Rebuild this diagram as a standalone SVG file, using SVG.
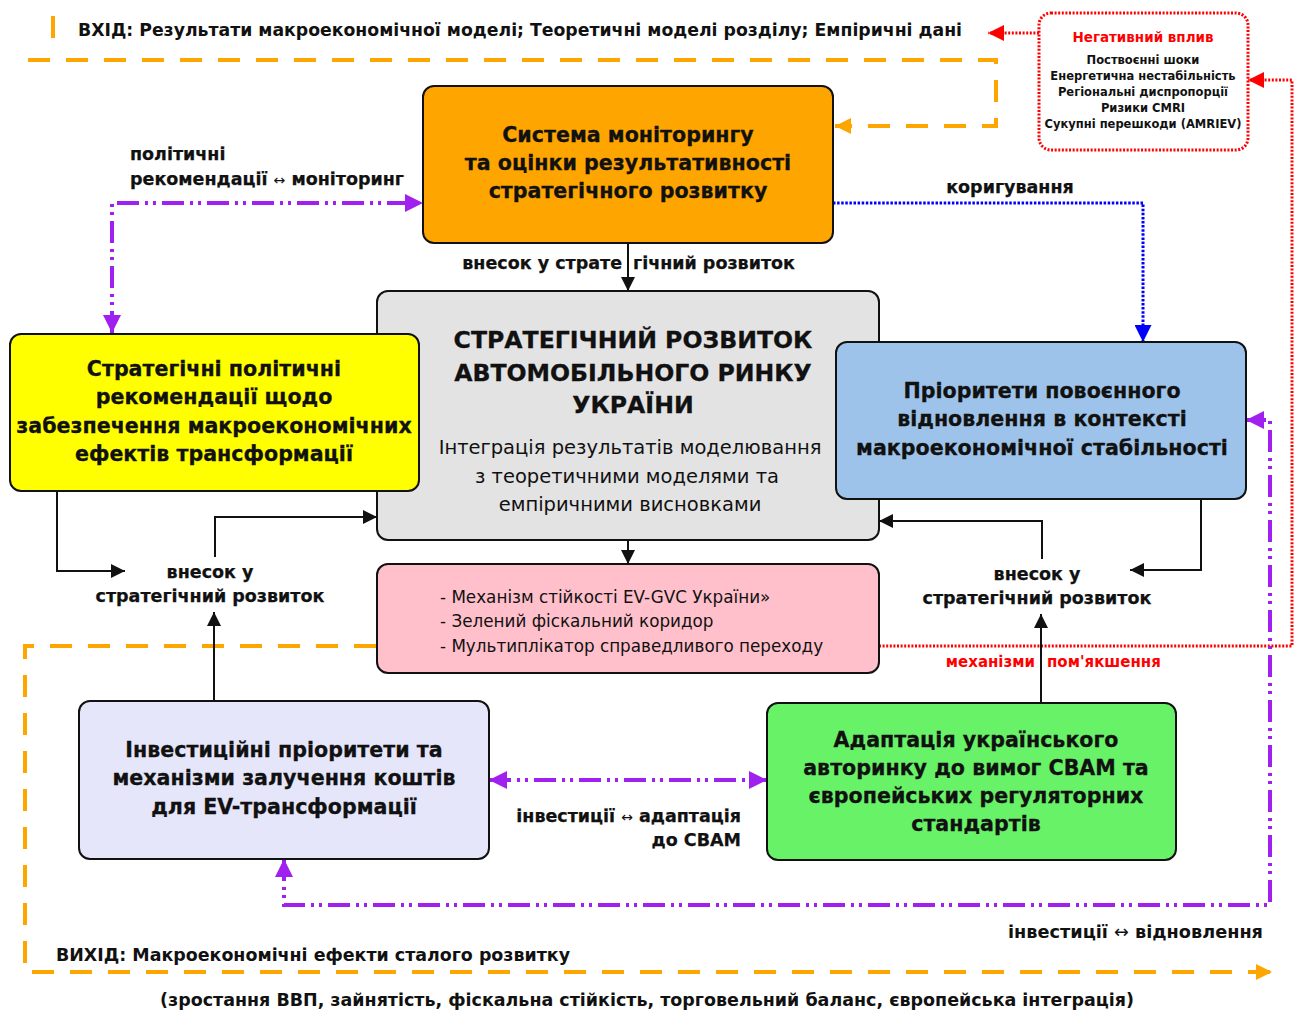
<svg xmlns="http://www.w3.org/2000/svg" width="1300" height="1011" viewBox="0 0 1300 1011">
  <defs>
    <style>
      text { font-family: "DejaVu Sans", Verdana, sans-serif; fill: #111; }
      .b { font-weight: bold; }
      .box { stroke: #111; stroke-width: 2; }
      .hd { font-size: 20.6px; font-weight: bold; text-anchor: middle; stroke: #111; stroke-width: 0.3; }
      .lbl { font-size: 17.5px; font-weight: bold; stroke: #111; stroke-width: 0.25; }
      .blk { fill: none; stroke: #111; stroke-width: 2; }
      .pur { fill: none; stroke: #A020F0; stroke-width: 4; stroke-dasharray: 22 6 3 5 3 6; }
      .org { fill: none; stroke: #FFA500; stroke-width: 4; stroke-dasharray: 22 16; }
      .red { fill: none; stroke: #FF0000; stroke-width: 3; stroke-dasharray: 2 1.6; }
      .blu { fill: none; stroke: #0000FF; stroke-width: 3; stroke-dasharray: 2.5 1.6; }
    </style>
    <marker id="aBlk" markerUnits="userSpaceOnUse" viewBox="0 0 12 12" refX="12" refY="6" markerWidth="14" markerHeight="14" orient="auto-start-reverse">
      <path d="M0,0 L12,6 L0,12 z" fill="#111"/>
    </marker>
    <marker id="aPur" markerUnits="userSpaceOnUse" viewBox="0 0 16 16" refX="16" refY="8" markerWidth="18" markerHeight="18" orient="auto-start-reverse">
      <path d="M0,0 L16,8 L0,16 z" fill="#A020F0"/>
    </marker>
    <marker id="aRed" markerUnits="userSpaceOnUse" viewBox="0 0 16 16" refX="16" refY="8" markerWidth="18" markerHeight="16" orient="auto-start-reverse">
      <path d="M0,0 L16,8 L0,16 z" fill="#FF0000"/>
    </marker>
    <marker id="aBlu" markerUnits="userSpaceOnUse" viewBox="0 0 16 16" refX="16" refY="8" markerWidth="17" markerHeight="17" orient="auto-start-reverse">
      <path d="M0,0 L16,8 L0,16 z" fill="#0000FF"/>
    </marker>
    <marker id="aOrg" markerUnits="userSpaceOnUse" viewBox="0 0 16 16" refX="16" refY="8" markerWidth="16" markerHeight="16" orient="auto-start-reverse">
      <path d="M0,0 L16,8 L0,16 z" fill="#FFA500"/>
    </marker>
  </defs>

  <rect width="1300" height="1011" fill="#FFFFFF"/>

  <!-- input / output frames and labels -->
  <g id="io">
    <line x1="53" y1="16" x2="53" y2="38" stroke="#FFA500" stroke-width="4"/>
    <text class="b" x="78" y="36" font-size="18" textLength="884" lengthAdjust="spacingAndGlyphs">ВХІД: Результати макроекономічної моделі; Теоретичні моделі розділу; Емпіричні дані</text>
    <text class="b" x="56" y="961" font-size="18" textLength="514" lengthAdjust="spacingAndGlyphs">ВИХІД: Макроекономічні ефекти сталого розвитку</text>
    <text class="b" x="160" y="1006" font-size="18" textLength="974" lengthAdjust="spacingAndGlyphs">(зростання ВВП, зайнятість, фіскальна стійкість, торговельний баланс, європейська інтеграція)</text>
  </g>

  <!-- connectors -->
  <g id="connectors">
    <!-- input flow into the monitoring system -->
    <path class="org" d="M28,60 H996 V126 H835" marker-end="url(#aOrg)"/>
    <!-- output flow -->
    <path class="org" d="M376,646 H25 V972 H1272" marker-end="url(#aOrg)"/>

    <!-- negative influence -->
    <path class="red" d="M1039,33 H988" marker-end="url(#aRed)"/>
    <path class="red" d="M879,646 H1292 V80 H1248" marker-end="url(#aRed)"/>

    <!-- correction -->
    <path class="blu" d="M833,203 H1143 V342" marker-end="url(#aBlu)"/>

    <!-- contributions -->
    <path class="blk" d="M628,243 V291" marker-end="url(#aBlk)"/>
    <path class="blk" d="M628,540 V564" marker-end="url(#aBlk)"/>
    <path class="blk" d="M57,491 V571 H125" marker-end="url(#aBlk)"/>
    <path class="blk" d="M215,557 V517 H377" marker-end="url(#aBlk)"/>
    <path class="blk" d="M214,701 V612" marker-end="url(#aBlk)"/>
    <path class="blk" d="M1201,499 V570 H1130" marker-end="url(#aBlk)"/>
    <path class="blk" d="M1042,559 V521 H879" marker-end="url(#aBlk)"/>
    <path class="blk" d="M1041,703 V614" marker-end="url(#aBlk)"/>

    <!-- two-way links -->
    <path class="pur" d="M112,333 V203 H423" marker-start="url(#aPur)" marker-end="url(#aPur)"/>
    <path class="pur" d="M489,780 H767" marker-start="url(#aPur)" marker-end="url(#aPur)"/>
    <path class="pur" d="M284,859 V905 H1270 V420 H1246" marker-start="url(#aPur)" marker-end="url(#aPur)"/>

    <!-- connector labels -->
    <text class="lbl" x="130" y="160">політичні</text>
    <text class="lbl" x="130" y="185">рекомендації <tspan font-weight="normal" font-size="14" stroke-width="0">↔</tspan> моніторинг</text>
    <text class="lbl" x="1010" y="193" text-anchor="middle">коригування</text>
    <text class="lbl" x="622" y="269" text-anchor="end">внесок у страте</text>
    <text class="lbl" x="633" y="269">гічний розвиток</text>
    <text class="lbl" x="210" y="578" text-anchor="middle">внесок у</text>
    <text class="lbl" x="210" y="602" text-anchor="middle">стратегічний розвиток</text>
    <text class="lbl" x="1037" y="580" text-anchor="middle">внесок у</text>
    <text class="lbl" x="1037" y="604" text-anchor="middle">стратегічний розвиток</text>
    <text class="b" x="1035" y="667" text-anchor="end" font-size="15" style="fill:#FF0000">механізми</text>
    <text class="b" x="1047" y="667" font-size="15" style="fill:#FF0000">пом'якшення</text>
    <text class="lbl" x="741" y="822" text-anchor="end">інвестиції <tspan font-weight="normal" font-size="14" stroke-width="0">↔</tspan> адаптація</text>
    <text class="lbl" x="741" y="846" text-anchor="end">до CBAM</text>
    <text class="b" x="1008" y="938" font-size="18" textLength="255" lengthAdjust="spacingAndGlyphs">інвестиції <tspan font-weight="normal">↔</tspan> відновлення</text>
  </g>

  <!-- negative influence box -->
  <g id="negative">
    <rect x="1039" y="13" width="209" height="137" rx="12" fill="#FFFFFF" stroke="#FF0000" stroke-width="3" stroke-dasharray="2 1.6"/>
    <text class="b" x="1143" y="42" font-size="13.5" text-anchor="middle" style="fill:#FF0000">Негативний вплив</text>
    <g class="b" font-size="11.5" text-anchor="middle">
      <text x="1143" y="64">Поствоєнні шоки</text>
      <text x="1143" y="80">Енергетична нестабільність</text>
      <text x="1143" y="96">Регіональні диспропорції</text>
      <text x="1143" y="112">Ризики CMRI</text>
      <text x="1143" y="128">Сукупні перешкоди (AMRIEV)</text>
    </g>
  </g>

  <!-- monitoring system -->
  <g id="monitoring">
    <rect class="box" x="423" y="86" width="410" height="157" rx="11" fill="#FFA500"/>
    <text class="hd" x="628" y="142">Система моніторингу</text>
    <text class="hd" x="628" y="170">та оцінки результативності</text>
    <text class="hd" x="628" y="198">стратегічного розвитку</text>
  </g>

  <!-- central node -->
  <g id="core">
    <rect class="box" x="377" y="291" width="502" height="249" rx="11" fill="#E3E3E3"/>
    <text class="b" x="633" y="348" font-size="23.6" text-anchor="middle" stroke="#111" stroke-width="0.3">СТРАТЕГІЧНИЙ РОЗВИТОК</text>
    <text class="b" x="633" y="381" font-size="23.6" text-anchor="middle" stroke="#111" stroke-width="0.3">АВТОМОБІЛЬНОГО РИНКУ</text>
    <text class="b" x="633" y="413" font-size="23.6" text-anchor="middle" stroke="#111" stroke-width="0.3">УКРАЇНИ</text>
    <text x="630" y="454" font-size="19.5" text-anchor="middle">Інтеграція результатів моделювання</text>
    <text x="627" y="483" font-size="19.5" text-anchor="middle">з теоретичними моделями та</text>
    <text x="630" y="511" font-size="19.5" text-anchor="middle">емпіричними висновками</text>
  </g>

  <!-- policy recommendations -->
  <g id="policy">
    <rect class="box" x="10" y="334" width="409" height="157" rx="11" fill="#FFFF00"/>
    <text class="hd" x="214" y="376">Стратегічні політичні</text>
    <text class="hd" x="214" y="404">рекомендації щодо</text>
    <text class="hd" x="214" y="433">забезпечення макроекономічних</text>
    <text class="hd" x="214" y="461">ефектів трансформації</text>
  </g>

  <!-- post-war recovery priorities -->
  <g id="recovery">
    <rect class="box" x="836" y="342" width="410" height="157" rx="11" fill="#9DC3EA"/>
    <text class="hd" x="1042" y="398">Пріоритети повоєнного</text>
    <text class="hd" x="1042" y="426">відновлення в контексті</text>
    <text class="hd" x="1042" y="455">макроекономічної стабільності</text>
  </g>

  <!-- mechanisms -->
  <g id="mechanisms">
    <rect class="box" x="377" y="564" width="502" height="109" rx="11" fill="#FFC0CB"/>
    <text x="440" y="603" font-size="16.8">- Механізм стійкості EV-GVC України»</text>
    <text x="440" y="627" font-size="16.8">- Зелений фіскальний коридор</text>
    <text x="440" y="652" font-size="16.8">- Мультиплікатор справедливого переходу</text>
  </g>

  <!-- investment priorities -->
  <g id="investment">
    <rect class="box" x="79" y="701" width="410" height="158" rx="11" fill="#E6E6FA"/>
    <text class="hd" x="284" y="757">Інвестиційні пріоритети та</text>
    <text class="hd" x="284" y="785">механізми залучення коштів</text>
    <text class="hd" x="284" y="814">для EV-трансформації</text>
  </g>

  <!-- CBAM adaptation -->
  <g id="adaptation">
    <rect class="box" x="767" y="703" width="409" height="157" rx="11" fill="#68F268"/>
    <text class="hd" x="976" y="747">Адаптація українського</text>
    <text class="hd" x="976" y="775">авторинку до вимог CBAM та</text>
    <text class="hd" x="976" y="803">європейських регуляторних</text>
    <text class="hd" x="976" y="831">стандартів</text>
  </g>
</svg>
